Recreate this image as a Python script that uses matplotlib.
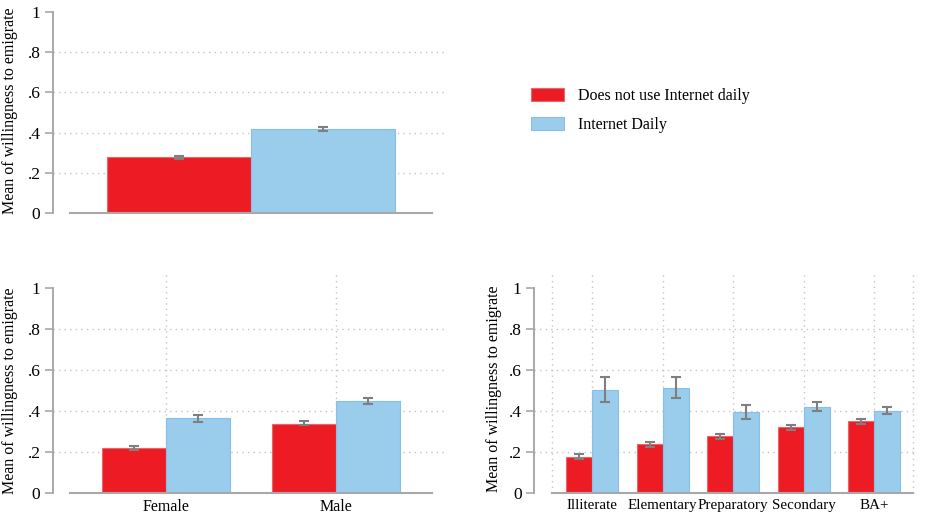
import numpy as np
import matplotlib.pyplot as plt

plt.rcParams['font.family'] = ['Liberation Serif', 'DejaVu Serif']

# data
series = ["Does not use Internet daily", "Internet Daily"]

overall_mean = [0.278, 0.418]
overall_lo = [0.270, 0.407]
overall_hi = [0.286, 0.430]

gender_cats = ["Female", "Male"]
gender_no = [0.220, 0.339]
gender_no_lo = [0.212, 0.330]
gender_no_hi = [0.228, 0.349]
gender_yes = [0.364, 0.450]
gender_yes_lo = [0.347, 0.436]
gender_yes_hi = [0.380, 0.465]

edu_cats = ["Illiterate", "Elementary", "Preparatory", "Secondary", "BA+"]
edu_no = [0.177, 0.238, 0.277, 0.320, 0.349]
edu_no_lo = [0.166, 0.225, 0.264, 0.307, 0.338]
edu_no_hi = [0.191, 0.251, 0.289, 0.331, 0.362]
edu_yes = [0.502, 0.512, 0.396, 0.421, 0.400]
edu_yes_lo = [0.442, 0.462, 0.362, 0.400, 0.385]
edu_yes_hi = [0.564, 0.564, 0.429, 0.444, 0.419]

yticks = [0, 0.2, 0.4, 0.6, 0.8, 1]
ytick_labels = ["0", ".2", ".4", ".6", ".8", "1"]

RED = "#ED1C24"
BLUE = "#9ACCEC"
RED_EDGE = "#E5686C"
BLUE_EDGE = "#86C0EA"
ERR = "#7F7F7F"
AXC = "#A8A8A8"
GRID = "#C4C4C4"
DOTS = (0, (1, 3))

W, H = 927, 514
fig = plt.figure(figsize=(W / 100, H / 100), dpi=100)


def make_ax(x0, x1, ytop, y0):
    return fig.add_axes([x0 / W, 1 - y0 / H, (x1 - x0) / W, (y0 - ytop) / H])


def style(ax, ytop_frac):
    ax.set_ylim(0, ytop_frac)
    ax.set_yticks(yticks)
    ax.set_yticklabels(ytick_labels, fontsize=12.5)
    for s in ["top", "right", "bottom"]:
        ax.spines[s].set_visible(False)
    ax.spines["left"].set_bounds(0, 1)
    ax.spines["left"].set_color(AXC)
    ax.spines["left"].set_linewidth(1.4)
    ax.tick_params(axis="y", length=6, width=1.2, color=AXC, pad=3)
    ax.tick_params(axis="x", length=0, labelsize=11.5, pad=4)
    for v in [0.2, 0.4, 0.6, 0.8]:
        ax.axhline(v, color=GRID, lw=1, ls=DOTS, zorder=0)
    ax.set_ylabel("Mean of willingness to emigrate", fontsize=11.5)


def draw_bars(ax, x, no, no_lo, no_hi, yes, yes_lo, yes_hi, w):
    x = np.asarray(x, dtype=float)
    ax.bar(x - w / 2, no, w, color=RED, edgecolor=RED_EDGE, lw=0.8, zorder=2)
    ax.bar(x + w / 2, yes, w, color=BLUE, edgecolor=BLUE_EDGE, lw=0.8, zorder=2)
    for xs, m, lo, hi in [(x - w / 2, no, no_lo, no_hi), (x + w / 2, yes, yes_lo, yes_hi)]:
        m = np.asarray(m); lo = np.asarray(lo); hi = np.asarray(hi)
        ax.errorbar(xs, m, yerr=[m - lo, hi - m], fmt="none", ecolor=ERR,
                    elinewidth=1.5, capsize=3.5, capthick=1.5, zorder=3)


# top panel: overall
ax1 = make_ax(53, 447, 0, 213)
style(ax1, 1 + 12 / 201)
draw_bars(ax1, [0], [overall_mean[0]], [overall_lo[0]], [overall_hi[0]],
          [overall_mean[1]], [overall_lo[1]], [overall_hi[1]], 1.0)
ax1.set_xlim(-(251 - 53) / 144, (447 - 251) / 144)
ax1.set_xticks([])
ax1.plot([(70 - 251) / 144, (432 - 251) / 144], [0, 0], color=AXC, lw=1.5,
         clip_on=False, zorder=4)
ax1.yaxis.set_label_coords(-0.089, 0.478)

# bottom left: gender
ax2 = make_ax(53, 447, 274, 493)
style(ax2, 1 + 14 / 205)
xg = np.arange(len(gender_cats))
draw_bars(ax2, xg, gender_no, gender_no_lo, gender_no_hi,
          gender_yes, gender_yes_lo, gender_yes_hi, 64 / 170)
ax2.set_xlim((53 - 166) / 170, (447 - 166) / 170)
ax2.set_xticks(xg)
ax2.set_xticklabels(gender_cats)
for xv in xg:
    ax2.axvline(xv, color=GRID, lw=1, ls=DOTS, zorder=0)
ax2.plot([(70 - 166) / 170, (432 - 166) / 170], [0, 0], color=AXC, lw=1.5,
         clip_on=False, zorder=4)
ax2.yaxis.set_label_coords(-0.089, 0.466)

# bottom right: education
ax3 = make_ax(534, 917, 274, 493)
style(ax3, 1 + 14 / 205)
xe = np.arange(len(edu_cats))
sp = 70.5
draw_bars(ax3, xe, edu_no, edu_no_lo, edu_no_hi,
          edu_yes, edu_yes_lo, edu_yes_hi, 26 / sp)
ax3.set_xlim((534 - 592) / sp, (917 - 592) / sp)
ax3.set_xticks(xe)
ax3.set_xticklabels(edu_cats, fontsize=10.8)
for xv in list(xe) + [(552 - 592) / sp, (913 - 592) / sp]:
    ax3.axvline(xv, color=GRID, lw=1, ls=DOTS, zorder=0)
ax3.plot([(552 - 592) / sp, (913 - 592) / sp], [0, 0], color=AXC, lw=1.5,
         clip_on=False, zorder=4)
ax3.yaxis.set_label_coords(-0.084, 0.475)

# legend
handles = [plt.Rectangle((0, 0), 1, 1, facecolor=RED, edgecolor=RED_EDGE, lw=0.8),
           plt.Rectangle((0, 0), 1, 1, facecolor=BLUE, edgecolor=BLUE_EDGE, lw=0.8)]
fig.legend(handles, series, loc="upper left", bbox_to_anchor=(531 / W, 1 - 88 / H),
           frameon=False, fontsize=11.5, handlelength=2.05, handleheight=0.9,
           handletextpad=0.9, labelspacing=0.8, borderpad=0, borderaxespad=0)

fig.savefig("out.png", dpi=100)
